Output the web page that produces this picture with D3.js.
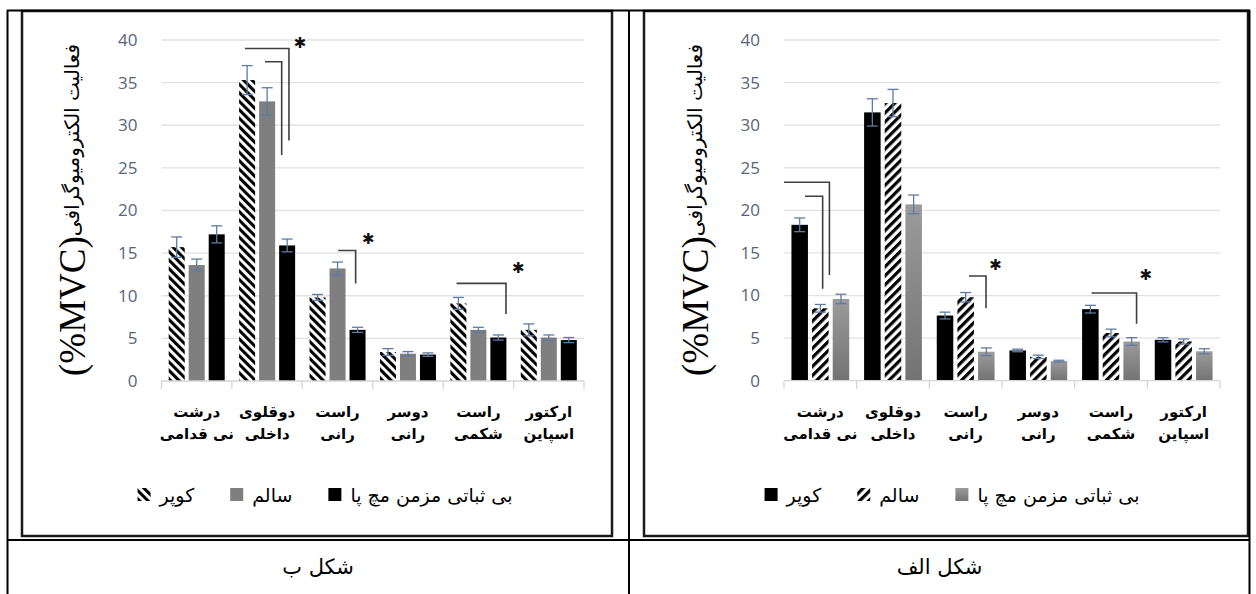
<!DOCTYPE html>
<html><head><meta charset="utf-8">
<script src="https://cdn.jsdelivr.net/npm/d3@7"></script>
<style>body{margin:0;background:#fff}svg{display:block}</style>
</head><body><svg id="c" width="1256" height="594"></svg>
<script>
// ---------- data ----------
const categories = ["درشت نی قدامی","دوقلوی داخلی","راست رانی","دوسر رانی","راست شکمی","ارکتور اسپاین"];
const categoryLines = [["درشت","نی قدامی"],["دوقلوی","داخلی"],["راست","رانی"],["دوسر","رانی"],["راست","شکمی"],["ارکتور","اسپاین"]];
const seriesNames = ["کوپر","سالم","بی ثباتی مزمن مچ پا"];
const yTicks = [0,5,10,15,20,25,30,35,40];
const yTitle = "فعالیت الکترومیوگرافی";
const yUnit = "(%MVC)";
const captions = ["شکل ب","شکل الف"];

// Figure ب (left)
const coperB      = [15.7, 35.3, 9.8, 3.4, 9.1, 6.0];
const coperBErr   = [1.2, 1.7, 0.35, 0.4, 0.7, 0.7];
const healthyB    = [13.6, 32.8, 13.2, 3.2, 6.0, 5.1];
const healthyBErr = [0.7, 1.6, 0.75, 0.25, 0.3, 0.3];
const caiB        = [17.2, 15.9, 6.0, 3.1, 5.1, 4.8];
const caiBErr     = [1.0, 0.75, 0.3, 0.2, 0.3, 0.3];
// significance brackets: category index, start/end as fraction of band, top & bottom values
const bracketsB = [
  {cat:1, from:0.185, to:0.81, top:39.0, bottom:28.2},
  {cat:1, from:0.47, to:0.707, top:37.45, bottom:26.5},
  {cat:2, from:0.51, to:0.757, top:15.3, bottom:11.45},
  {cat:4, from:0.19, to:0.892, top:11.45, bottom:7.85}
];
const starsB = [{cat:1, frac:0.966, v:39.6},{cat:2, frac:0.935, v:16.6},{cat:4, frac:1.067, v:13.2}];

// Figure الف (right)
const coperA      = [18.3, 31.5, 7.65, 3.55, 8.4, 4.8];
const coperAErr   = [0.8, 1.6, 0.4, 0.15, 0.45, 0.25];
const healthyA    = [8.5, 32.6, 9.8, 2.8, 5.6, 4.6];
const healthyAErr = [0.45, 1.6, 0.55, 0.2, 0.45, 0.3];
const caiA        = [9.6, 20.7, 3.4, 2.3, 4.6, 3.45];
const caiAErr     = [0.55, 1.1, 0.45, 0.1, 0.45, 0.3];
const bracketsA = [
  {cat:0, from:0.0, to:0.625, top:23.3, bottom:12.4},
  {cat:0, from:0.289, to:0.532, top:21.65, bottom:10.8},
  {cat:2, from:0.545, to:0.78, top:12.3, bottom:8.5},
  {cat:4, from:0.232, to:0.852, top:10.3, bottom:6.7}
];
const starsA = [{cat:2, frac:0.91, v:13.6},{cat:4, frac:0.98, v:12.4}];

// ---------- drawing ----------
const svg = d3.select("#c");
svg.append("rect").attr("width",1256).attr("height",594).attr("fill","#fff");
const defs = svg.append("defs");
function hatch(id, angle, period, stripe){
  const p = defs.append("pattern").attr("id",id).attr("patternUnits","userSpaceOnUse")
    .attr("width",period).attr("height",period).attr("patternTransform",`rotate(${angle})`);
  p.append("rect").attr("width",period).attr("height",period).attr("fill","#fff");
  p.append("rect").attr("width",stripe).attr("height",period).attr("fill","#000");
}
hatch("hatchDown",-45,6,3.1);
hatch("hatchUp",45,6.4,3.2);
const gr = defs.append("linearGradient").attr("id","grayGrad").attr("x1",0).attr("y1",0).attr("x2",0).attr("y2",1);
gr.append("stop").attr("offset","0%").attr("stop-color","#9b9b9b");
gr.append("stop").attr("offset","100%").attr("stop-color","#737373");

const persian = "'DejaVu Sans', sans-serif";

function drawChart(cfg){
  const g = svg.append("g");
  const x0 = d3.scaleBand().domain(categories).range([cfg.plot.left, cfg.plot.right]);
  const x1 = d3.scaleBand().domain([0,1,2]).range([0, x0.bandwidth()]).paddingInner(0.2).paddingOuter(0.36);
  const y = d3.scaleLinear().domain([0,40]).range([cfg.plot.bottom, cfg.plot.top]);
  const bx = (cat, f) => x0(categories[cat]) + f * x0.bandwidth();

  // gridlines
  g.append("g").selectAll("line").data(yTicks.slice(1)).join("line")
    .attr("x1",cfg.plot.left).attr("x2",cfg.plot.right)
    .attr("y1",d=>y(d)).attr("y2",d=>y(d)).attr("stroke","#e2e2e2").attr("stroke-width",1.3);
  // y axis labels
  const ax = g.append("g").attr("transform",`translate(${cfg.plot.left},0)`)
    .call(d3.axisLeft(y).tickValues(yTicks).tickSize(0).tickPadding(24));
  ax.select(".domain").remove();
  ax.selectAll("text").attr("font-family","'Open Sans', sans-serif").attr("font-size",17).attr("fill","#56657c");

  // bars
  cfg.series.forEach((s, si) => {
    g.append("g").selectAll("rect").data(s.values).join("rect")
      .attr("x",(d,i)=>x0(categories[i]) + x1(si))
      .attr("y",d=>y(d)).attr("width",x1.bandwidth())
      .attr("height",d=>y(0)-y(d)).attr("fill",s.fill);
  });
  // baseline and category ticks
  g.append("line").attr("x1",cfg.plot.left).attr("x2",cfg.plot.right)
    .attr("y1",y(0)).attr("y2",y(0)).attr("stroke","#d6d6d6").attr("stroke-width",1.3);
  const bounds = categories.map(c=>x0(c)).concat([cfg.plot.right]);
  g.append("g").selectAll("line").data(bounds).join("line")
    .attr("x1",d=>d).attr("x2",d=>d).attr("y1",y(0)).attr("y2",y(0)+8)
    .attr("stroke","#d6d6d6").attr("stroke-width",1.3);
  // error bars
  cfg.series.forEach((s, si) => {
    const eg = g.append("g").attr("stroke","#5d7ca4").attr("stroke-width",1.3);
    s.values.forEach((v,i)=>{
      const cx = x0(categories[i]) + x1(si) + x1.bandwidth()/2;
      const e = s.err[i];
      eg.append("line").attr("x1",cx).attr("x2",cx).attr("y1",y(v+e)).attr("y2",y(v-e));
      eg.append("line").attr("x1",cx-5.5).attr("x2",cx+5.5).attr("y1",y(v+e)).attr("y2",y(v+e));
      eg.append("line").attr("x1",cx-5.5).attr("x2",cx+5.5).attr("y1",y(v-e)).attr("y2",y(v-e));
    });
  });
  // brackets
  g.append("g").selectAll("path").data(cfg.brackets).join("path")
    .attr("d",b=>`M${bx(b.cat,b.from)},${y(b.top)}H${bx(b.cat,b.to)}V${y(b.bottom)}`)
    .attr("fill","none").attr("stroke","#404040").attr("stroke-width",1.6);
  g.append("g").selectAll("text").data(cfg.stars).join("text")
    .attr("x",s=>bx(s.cat,s.frac)).attr("y",s=>y(s.v))
    .attr("text-anchor","middle").attr("dominant-baseline","central")
    .attr("font-family",persian).attr("font-size",15).attr("fill","#111").text("✱");

  // category labels
  const cl = g.append("g").attr("font-family",persian).attr("font-size",15).attr("font-weight","bold")
    .attr("fill","#000").attr("text-anchor","middle");
  categories.forEach((c,i)=>{
    const cx = x0(c) + x0.bandwidth()/2;
    cl.append("text").attr("x",cx).attr("y",y(0)+36).text(categoryLines[i][0]);
    cl.append("text").attr("x",cx).attr("y",y(0)+58).text(categoryLines[i][1]);
  });

  // y title
  const t = g.append("text").attr("transform",`translate(${cfg.titleX},${cfg.titleY}) rotate(-90)`)
    .attr("text-anchor","middle").attr("direction","ltr").attr("dominant-baseline","central");
  t.append("tspan").attr("font-family","'Liberation Serif', serif").attr("font-size",37).text(yUnit);
  t.append("tspan").attr("font-family",persian).attr("font-size",20).text(yTitle);

  // legend
  const lg = g.append("g");
  let lx = 0; const items = [];
  cfg.series.forEach(s=>{
    const it = lg.append("g");
    it.append("rect").attr("x",0).attr("y",-13).attr("width",13).attr("height",13).attr("fill",s.fill);
    const tx = it.append("text").attr("x",22).attr("y",1).attr("font-family",persian).attr("font-size",19)
      .attr("fill","#000").attr("direction","ltr").attr("text-anchor","start").text(s.name);
    items.push({it, w: 22 + tx.node().getComputedTextLength()});
  });
  items.forEach((o,i)=>{ o.it.attr("transform",`translate(${lx},0)`); lx += o.w + (i<items.length-1?36:0); });
  lg.attr("transform",`translate(${cfg.legendCenter - lx/2},${cfg.legendY})`);

  // frame
  g.append("rect").attr("x",cfg.frame.x).attr("y",cfg.frame.y).attr("width",cfg.frame.w).attr("height",cfg.frame.h)
    .attr("fill","none").attr("stroke","#1a1a1a").attr("stroke-width",2.5);
}

drawChart({
  frame:{x:22,y:11,w:590,h:525},
  plot:{left:161.5,right:584,top:40,bottom:381},
  titleX:72, titleY:210, legendCenter:325, legendY:501,
  series:[
    {name:seriesNames[0], values:coperB, err:coperBErr, fill:"url(#hatchDown)"},
    {name:seriesNames[1], values:healthyB, err:healthyBErr, fill:"#7f7f7f"},
    {name:seriesNames[2], values:caiB, err:caiBErr, fill:"#000"}
  ],
  brackets:bracketsB, stars:starsB
});
drawChart({
  frame:{x:644,y:11,w:604,h:525},
  plot:{left:784,right:1220,top:40,bottom:380.7},
  titleX:695, titleY:210, legendCenter:952, legendY:501,
  series:[
    {name:seriesNames[0], values:coperA, err:coperAErr, fill:"#000"},
    {name:seriesNames[1], values:healthyA, err:healthyAErr, fill:"url(#hatchUp)"},
    {name:seriesNames[2], values:caiA, err:caiAErr, fill:"url(#grayGrad)"}
  ],
  brackets:bracketsA, stars:starsA
});

// table lines
const tb = svg.append("g").attr("stroke","#000").attr("stroke-width",2);
tb.append("line").attr("x1",7).attr("x2",1250).attr("y1",10.5).attr("y2",10.5);
tb.append("line").attr("x1",7).attr("x2",1250).attr("y1",540).attr("y2",540);
tb.append("line").attr("x1",7.5).attr("x2",7.5).attr("y1",10).attr("y2",594);
tb.append("line").attr("x1",629).attr("x2",629).attr("y1",10).attr("y2",594);
tb.append("line").attr("x1",1249.5).attr("x2",1249.5).attr("y1",10).attr("y2",594);
svg.append("g").attr("font-family",persian).attr("font-size",21).attr("text-anchor","middle").attr("fill","#000")
  .selectAll("text").data(captions).join("text")
  .attr("x",(d,i)=>i===0?318:939.5).attr("y",574).text(d=>d);
</script></body></html>
